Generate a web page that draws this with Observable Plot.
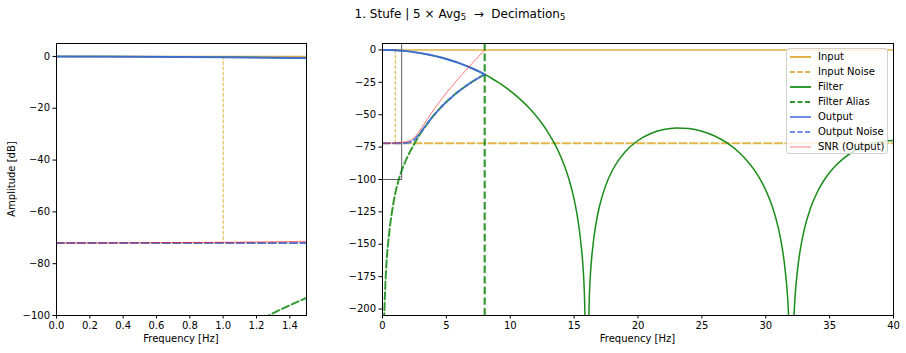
<!DOCTYPE html>
<html><head><meta charset="utf-8">
<script src="https://cdn.jsdelivr.net/npm/d3@7"></script>
<script src="https://cdn.jsdelivr.net/npm/@observablehq/plot@0.6"></script>
<style>
body{margin:0;background:#fff;font-family:"DejaVu Sans",sans-serif;color:#000}
#fig{position:relative;width:906px;height:353px;overflow:hidden;background:#fff}
.abs{position:absolute}
#title{left:0;width:920px;top:7px;text-align:center;font-size:12px;line-height:14px;white-space:nowrap}
#title sub{font-size:8.5px;vertical-align:-2px;line-height:0}
.xlab{top:333px;font-size:10px;line-height:12px;text-align:center;white-space:nowrap}
#ylab{left:12px;top:179px;font-size:10px;line-height:12px;white-space:nowrap;transform:translate(-50%,-50%) rotate(-90deg)}
#legend{left:786px;top:48px;width:102px;height:106px;border:1px solid #d0d0d0;border-radius:3px;background:rgba(255,255,255,0.8);box-sizing:border-box}
.lrow{position:absolute;left:0;height:14px;font-size:10px;line-height:14px;white-space:nowrap}
.lrow svg{position:absolute;left:3px;top:0}
.lrow span{position:absolute;left:31px;top:0}
</style></head><body><div id="fig"></div>
<script>
// ---------------- data ----------------
// Filter (5 x Avg5) magnitude, dB
const filterF  = [0,1,2,3,4,5,6,7,8,8.5,9,9.5,10,10.5,11,11.5,12,12.5,13,13.5,14,14.5,15,15.25,15.5,15.8,15.9,
                  16.1,16.2,16.5,16.75,17,17.5,18,18.5,19,20,21,22,23,24,25,26,27,28,28.5,29,29.5,30,30.5,31,31.25,31.5,31.8,31.9,
                  32.1,32.2,32.5,32.75,33,33.5,34,34.5,35,35.5,36,37,38,39,40];
const filterDb = [0,-0.27,-1.08,-2.44,-4.38,-6.94,-10.15,-14.11,-18.90,-21.64,-24.66,-27.98,-31.62,-35.64,-40.10,-45.07,-50.65,-57.00,-64.32,-72.94,-83.42,-96.78,-115.35,-128.35,-146.49,-186.95,-217.3,
                  -217.7,-187.89,-148.83,-131.87,-120.05,-103.85,-92.87,-84.81,-78.60,-69.90,-64.50,-61.44,-60.24,-60.69,-62.72,-66.41,-71.99,-79.94,-85.07,-91.24,-98.75,-108.17,-120.51,-138.10,-150.63,-168.30,-208.2,-238.4,
                  -238.5,-208.4,-168.86,-151.46,-139.21,-122.19,-110.40,-101.53,-94.58,-88.97,-84.41,-77.61,-73.20,-70.71,-69.90];
// Filter alias (folded around the new Nyquist), dB
const aliasF  = [0.1,0.2,0.3,0.5,0.75,1,1.25,1.5,2,2.5,3,3.5,4,4.5,5,5.5,6,6.5,7,7.5,8];
const aliasDb = [-217.3,-186.95,-166.5,-143.5,-124.5,-110.8,-100.8,-93.2,-81.6,-72.3,-64.0,-57.00,-50.65,-45.07,-40.10,-35.64,-31.62,-27.98,-24.66,-21.64,-18.90];
// Output after decimation, output noise, SNR
const outF       = [0,0.5,1,1.5,2,2.5,3,3.5,4,4.5,5,5.5,6,6.5,7,7.5,8];
const outDb      = [0,-0.07,-0.27,-0.61,-1.08,-1.69,-2.44,-3.34,-4.38,-5.58,-6.94,-8.46,-10.15,-12.03,-14.11,-16.39,-18.90];
const outNoiseDb = [-72,-72,-72,-71.97,-71.55,-69.1,-63.4,-56.87,-50.62,-45.06,-40.09,-35.64,-31.62,-27.98,-24.66,-21.64,-18.90];
const snrDb      = [-72,-71.93,-71.73,-71.36,-70.47,-67.41,-60.96,-53.53,-46.24,-39.48,-33.15,-27.18,-21.47,-15.95,-10.55,-5.25,0];
// Input and input noise levels
const inputF  = [0,40];
const inputDb = [0,0];
const noiseDb = [-72,-72];
// Marker lines
const signalF = [1];           // thin dashed marker from input level to noise level
const nyquistF = [8];          // new Nyquist after decimation
const maskF  = [0,1.5,1.5];    // SNR mask (grey)
const maskDb = [-100,-100,5];
// Axes
const leftXTicks  = [0,0.2,0.4,0.6,0.8,1.0,1.2,1.4];
const leftYTicks  = [0,-20,-40,-60,-80,-100];
const rightXTicks = [0,5,10,15,20,25,30,35,40];
const rightYTicks = [0,-25,-50,-75,-100,-125,-150,-175,-200];
const legendLabels = ["Input","Input Noise","Filter","Filter Alias","Output","Output Noise","SNR (Output)"];

// ---------------- drawing ----------------
const C = {orange:"#daa520", green:"#008000", blue:"#4169e1", red:"#ff0000", grey:"#444"};
const pts = (xs, ys) => xs.map((x, i) => ({x, y: ys[i]}));
const minus = d => (d < 0 ? "\u2212" : "") + Math.abs(d);

function panel(o) {
  return Plot.plot({
    width: o.width, height: 323,
    marginTop: 13, marginBottom: 38, marginLeft: o.ml, marginRight: o.mr,
    x: {domain: o.xDomain}, y: {domain: o.yDomain},
    style: {fontFamily: "DejaVu Sans", fontSize: "10px", color: "black", background: "transparent", overflow: "visible"},
    marks: [
      Plot.line(pts(inputF, inputDb), {x: "x", y: "y", stroke: C.orange, strokeOpacity: 0.85, strokeWidth: 1.5, clip: true}),
      Plot.line(pts(inputF, noiseDb), {x: "x", y: "y", stroke: C.orange, strokeOpacity: 0.8, strokeWidth: 2, strokeDasharray: "7.4,3.2", clip: true}),
      Plot.ruleX(signalF, {x: d => d, y1: inputDb[0], y2: noiseDb[0], stroke: C.orange, strokeOpacity: 0.9, strokeWidth: 1, strokeDasharray: "3.7,1.6", clip: true}),
      Plot.line(pts(maskF, maskDb), {x: "x", y: "y", stroke: C.grey, strokeOpacity: 0.85, strokeWidth: 1, clip: true}),
      Plot.line(pts(filterF, filterDb), {x: "x", y: "y", stroke: C.green, strokeOpacity: 0.9, strokeWidth: 1.5, curve: "monotone-x", clip: true}),
      Plot.line(pts(aliasF, aliasDb), {x: "x", y: "y", stroke: C.green, strokeOpacity: 0.8, strokeWidth: 2, strokeDasharray: "7.4,3.2", curve: "monotone-x", clip: true}),
      Plot.ruleX(nyquistF, {x: d => d, stroke: C.green, strokeOpacity: 0.8, strokeWidth: 2.2, strokeDasharray: "7.4,3.2", clip: true}),
      Plot.line(pts(outF, outDb), {x: "x", y: "y", stroke: C.blue, strokeOpacity: 0.9, strokeWidth: 2, curve: "monotone-x", clip: true}),
      Plot.line(pts(outF, outNoiseDb), {x: "x", y: "y", stroke: C.blue, strokeOpacity: 0.85, strokeWidth: 2, strokeDasharray: "7.4,3.2", curve: "monotone-x", clip: true}),
      Plot.line(pts(outF, snrDb), {x: "x", y: "y", stroke: C.red, strokeOpacity: 0.6, strokeWidth: 0.9, curve: "monotone-x", clip: true}),
      Plot.frame({stroke: "black", strokeWidth: 1}),
      Plot.axisX({ticks: o.xTicks, tickSize: 3.5, tickPadding: 3, tickFormat: o.xFmt, label: null, stroke: "black"}),
      Plot.axisY({ticks: o.yTicks, tickSize: 3.5, tickPadding: 3, tickFormat: minus, label: null, stroke: "black"})
    ]
  });
}

const fig = document.getElementById("fig");
const left = panel({width: 320, ml: 56, mr: 14, xDomain: [0, 1.5], yDomain: [-100, 5],
  xTicks: leftXTicks, yTicks: leftYTicks, xFmt: d => d.toFixed(1)});
left.classList.add("abs"); left.style.left = "0px"; left.style.top = "30px";
fig.appendChild(left);
const right = panel({width: 586, ml: 62, mr: 13, xDomain: [0, 40], yDomain: [-205, 5],
  xTicks: rightXTicks, yTicks: rightYTicks, xFmt: d => String(d)});
right.classList.add("abs"); right.style.left = "320px"; right.style.top = "30px";
fig.appendChild(right);

// titles and labels
const t = document.createElement("div");
t.id = "title"; t.className = "abs";
t.innerHTML = "1. Stufe | 5 \u00d7 Avg<sub>5</sub>&nbsp; \u2192 &nbsp;Decimation<sub>5</sub>";
fig.appendChild(t);
[[56, 306], [382, 893]].forEach(([a, b]) => {
  const d = document.createElement("div");
  d.className = "abs xlab"; d.style.left = a + "px"; d.style.width = (b - a) + "px";
  d.textContent = "Frequency [Hz]";
  fig.appendChild(d);
});
const yl = document.createElement("div");
yl.id = "ylab"; yl.className = "abs"; yl.textContent = "Amplitude [dB]";
fig.appendChild(yl);

// legend
const styles = [
  {c: C.orange, o: 0.85, w: 2, dash: null},
  {c: C.orange, o: 0.8, w: 2, dash: "5,2.5"},
  {c: C.green, o: 0.8, w: 2, dash: null},
  {c: C.green, o: 0.8, w: 2, dash: "5,2.5"},
  {c: C.blue, o: 0.75, w: 2, dash: null},
  {c: C.blue, o: 0.75, w: 2, dash: "5,2.5"},
  {c: C.red, o: 0.5, w: 1, dash: null}
];
const lg = document.createElement("div");
lg.id = "legend"; lg.className = "abs";
legendLabels.forEach((lab, i) => {
  const s = styles[i];
  const r = document.createElement("div");
  r.className = "lrow"; r.style.top = (1 + i * 15) + "px";
  r.innerHTML = `<svg width="22" height="14"><line x1="0" x2="21" y1="7" y2="7" stroke="${s.c}" stroke-opacity="${s.o}" stroke-width="${s.w}" ${s.dash ? `stroke-dasharray="${s.dash}"` : ""}/></svg><span>${lab}</span>`;
  lg.appendChild(r);
});
fig.appendChild(lg);
</script></body></html>
